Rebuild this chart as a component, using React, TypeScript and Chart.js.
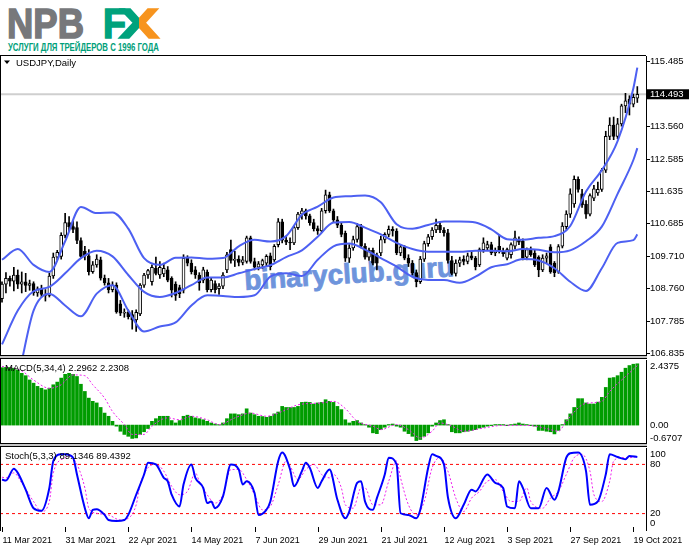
import Chart from 'chart.js/auto';
import { useEffect, useRef } from 'react';

const FONT = '"Liberation Sans", Arial, sans-serif';

// bar 0 = 11 Mar 2021, one bar per trading day
const opens = [
    108.45, 108.88, 109.05, 108.97, 109.15, 108.88, 108.95, 108.84, 108.90, 108.62,
    108.74, 108.58, 108.55, 109.12, 109.68, 109.70, 110.32, 110.70, 110.58, 110.55,
    110.17, 109.85, 109.72, 109.25, 109.45, 109.60, 109.06, 108.92, 108.72, 108.85,
    108.30, 108.02, 108.05, 107.98, 107.82, 108.00, 108.85, 109.15, 108.95, 109.35,
    109.15, 109.18, 109.30, 109.05, 108.88, 108.78, 108.70, 109.64, 109.50, 109.30,
    109.15, 109.00, 109.24, 108.72, 108.90, 108.75, 108.82, 109.30, 109.90, 109.58,
    109.62, 109.52, 109.55, 110.25, 109.55, 109.38, 109.45, 109.50, 109.72, 109.60,
    110.05, 110.72, 110.18, 110.12, 110.10, 110.55, 110.95, 111.05, 110.90, 110.70,
    110.52, 110.45, 111.05, 111.52, 111.05, 110.78, 110.62, 110.38, 109.65, 109.95,
    110.20, 110.58, 110.00, 109.68, 109.88, 109.74, 109.80, 110.20, 110.35, 110.50,
    110.45, 109.80, 109.98, 109.65, 109.50, 109.22, 108.95, 109.62, 110.08, 110.28,
    110.48, 110.62, 110.48, 110.40, 109.58, 109.20, 109.50, 109.62, 109.55, 109.72,
    109.65, 109.45, 109.90, 109.95, 110.05, 109.80, 110.00, 109.85, 109.65, 109.75,
    110.00, 110.20, 110.15, 109.68, 109.90, 109.80, 109.68, 109.30, 109.65, 109.98,
    109.50, 109.24, 110.00, 110.58, 110.95, 111.25, 111.98, 111.55, 111.25, 110.95,
    111.42, 111.58, 111.68, 112.25, 113.25, 113.58, 113.25, 113.62, 114.15, 114.35,
    114.20, 114.38,
];
const highs = [
    108.95, 109.22, 109.12, 109.38, 109.30, 109.24, 109.20, 109.00, 108.95, 108.80,
    108.85, 108.72, 109.20, 109.80, 109.88, 110.40, 110.97, 110.88, 110.75, 110.72,
    110.25, 110.00, 109.90, 109.55, 109.75, 109.68, 109.15, 109.05, 108.95, 108.92,
    108.40, 108.15, 108.12, 108.10, 108.12, 108.90, 109.20, 109.32, 109.45, 109.68,
    109.55, 109.50, 109.40, 109.10, 108.95, 108.85, 109.75, 109.72, 109.60, 109.40,
    109.22, 109.38, 109.30, 109.08, 108.98, 108.90, 109.22, 109.82, 110.18, 109.85,
    109.72, 109.70, 110.30, 110.30, 109.65, 109.55, 109.62, 109.75, 109.80, 110.05,
    110.82, 110.80, 110.30, 110.25, 110.60, 111.00, 111.12, 111.10, 110.95, 110.80,
    110.60, 111.12, 111.66, 111.60, 111.10, 110.88, 110.70, 110.45, 110.05, 110.30,
    110.68, 110.65, 110.08, 109.95, 109.95, 109.80, 110.30, 110.40, 110.60, 110.58,
    110.52, 110.05, 110.02, 109.75, 109.58, 109.30, 109.70, 110.15, 110.35, 110.55,
    110.80, 110.70, 110.55, 110.50, 109.70, 109.60, 109.68, 109.72, 109.80, 109.85,
    109.70, 109.95, 110.25, 110.15, 110.12, 109.95, 110.35, 109.95, 109.95, 110.10,
    110.45, 110.28, 110.22, 109.95, 109.98, 109.88, 109.72, 109.75, 109.80, 110.05,
    109.55, 110.05, 110.70, 111.05, 111.70, 112.08, 112.05, 111.68, 111.35, 111.55,
    111.80, 111.90, 112.30, 113.40, 113.80, 113.82, 113.78, 114.20, 114.52, 114.45,
    114.50, 114.72,
];
const lows = [
    108.35, 108.62, 108.82, 108.68, 108.75, 108.62, 108.66, 108.70, 108.55, 108.52,
    108.50, 108.38, 108.50, 109.05, 109.60, 109.62, 110.25, 110.45, 110.40, 110.08,
    109.65, 109.60, 109.15, 109.20, 109.38, 109.00, 108.85, 108.62, 108.65, 108.02,
    107.95, 107.90, 107.85, 107.55, 107.48, 107.95, 108.78, 109.05, 108.85, 109.15,
    109.05, 109.10, 108.95, 108.50, 108.40, 108.48, 108.62, 109.42, 109.18, 109.05,
    108.70, 108.92, 108.65, 108.65, 108.62, 108.58, 108.75, 109.22, 109.50, 109.40,
    109.42, 109.45, 109.50, 109.50, 109.30, 109.30, 109.35, 109.42, 109.30, 109.55,
    109.98, 110.10, 110.05, 109.90, 110.05, 110.50, 110.80, 110.80, 110.62, 110.45,
    110.35, 110.40, 110.98, 111.00, 110.70, 110.55, 110.28, 109.55, 109.52, 109.88,
    110.12, 109.95, 109.62, 109.58, 109.45, 109.30, 109.72, 110.10, 110.28, 110.30,
    109.75, 109.72, 109.60, 109.40, 109.15, 108.80, 108.90, 109.55, 110.00, 110.20,
    110.40, 110.40, 110.30, 109.50, 109.15, 109.12, 109.40, 109.45, 109.48, 109.60,
    109.30, 109.40, 109.82, 109.88, 109.75, 109.72, 109.80, 109.70, 109.60, 109.65,
    109.92, 110.05, 109.60, 109.60, 109.70, 109.40, 109.10, 109.25, 109.50, 109.20,
    109.10, 109.20, 109.95, 110.50, 110.85, 111.15, 111.60, 111.15, 110.82, 110.90,
    111.35, 111.50, 111.62, 112.18, 113.15, 113.15, 113.18, 113.55, 113.95, 113.88,
    114.12, 114.25,
];
const closes = [
    108.88, 109.05, 108.97, 109.15, 108.88, 108.95, 108.84, 108.90, 108.62, 108.74,
    108.58, 108.55, 109.12, 109.68, 109.82, 110.32, 110.70, 110.58, 110.50, 110.17,
    109.70, 109.72, 109.25, 109.45, 109.62, 109.06, 108.92, 108.72, 108.85, 108.06,
    108.02, 108.05, 107.92, 107.82, 108.05, 108.85, 109.15, 109.28, 109.38, 109.20,
    109.38, 109.35, 109.00, 108.70, 108.55, 108.60, 109.64, 109.50, 109.25, 109.15,
    108.92, 109.30, 108.72, 109.00, 108.72, 108.82, 109.15, 109.75, 109.58, 109.62,
    109.52, 109.60, 110.25, 109.55, 109.38, 109.48, 109.58, 109.70, 109.40, 110.00,
    110.72, 110.18, 110.12, 110.10, 110.55, 110.95, 111.05, 110.90, 110.70, 110.52,
    110.45, 111.05, 111.52, 111.05, 110.78, 110.62, 110.35, 109.65, 109.95, 110.20,
    110.58, 110.00, 109.68, 109.88, 109.50, 109.50, 110.20, 110.35, 110.50, 110.45,
    109.80, 109.98, 109.65, 109.50, 109.22, 108.95, 109.62, 110.08, 110.28, 110.48,
    110.62, 110.48, 110.40, 109.58, 109.20, 109.50, 109.60, 109.55, 109.72, 109.65,
    109.40, 109.90, 110.10, 110.05, 109.80, 109.88, 109.85, 109.78, 109.90, 110.05,
    110.25, 110.12, 109.65, 109.90, 109.75, 109.45, 109.30, 109.65, 109.72, 109.24,
    109.22, 109.99, 110.60, 110.95, 111.55, 111.98, 111.68, 111.22, 110.95, 111.50,
    111.70, 111.68, 112.25, 113.25, 113.58, 113.25, 113.62, 114.15, 114.30, 114.20,
    114.40, 114.493,
];

// Bollinger bands, read every 4th bar
const bandIdx = [
    0, 4, 8, 12, 16, 20, 24, 28, 32, 36, 40, 44, 48, 52, 56, 60, 64, 68, 72, 76, 80,
    84, 88, 92, 96, 100, 104, 108, 112, 116, 120, 124, 128, 132, 136, 140, 144, 148, 152, 156, 160, 161,
];
const bandUpper = [
    109.60, 109.92, 109.45, 109.24, 110.15, 111.16, 110.98, 111.00, 110.52, 109.65, 109.45,
    109.66, 109.67, 109.63, 109.65, 110.00, 110.19, 110.14, 110.30, 110.93, 111.17,
    111.44, 111.48, 111.50, 111.30, 110.65, 110.52, 110.63, 110.73, 110.73, 110.70,
    110.50, 110.21, 110.19, 110.25, 110.30, 110.60, 111.62, 112.25, 113.11, 114.67, 115.28,
];
const bandMiddle = [
    107.10, 108.10, 108.67, 108.80, 109.20, 109.65, 109.87, 109.70, 109.15, 108.65, 108.50,
    108.62, 108.85, 109.08, 109.08, 109.20, 109.33, 109.44, 109.68, 109.88, 110.28,
    110.70, 110.72, 110.55, 110.35, 110.10, 109.92, 109.84, 109.84, 109.84, 109.87,
    109.87, 109.85, 109.92, 109.90, 109.82, 109.88, 110.15, 110.58, 111.55, 112.55, 112.90,
];
const bandLower = [
    104.70, 106.10, 108.10, 108.60, 108.25, 107.93, 108.60, 108.85, 108.10, 107.48, 107.63,
    107.75, 108.25, 108.55, 108.53, 108.50, 108.55, 109.10, 109.20, 109.12, 109.60,
    110.00, 110.08, 109.90, 109.65, 109.40, 109.10, 109.00, 109.00, 108.92, 109.10,
    109.38, 109.47, 109.62, 109.58, 109.35, 108.95, 108.68, 109.35, 110.10, 110.18, 110.35,
];

const priceTicks = [115.485, 113.560, 112.585, 111.635, 110.685, 109.710, 108.760, 107.785, 106.835];

// MACD(5,34,4)
const macdHist = [
    2.15, 2.16, 2.16, 2.13, 2.07, 1.94, 1.85, 1.69, 1.57, 1.45,
    1.38, 1.32, 1.38, 1.51, 1.61, 1.76, 1.90, 1.94, 1.90, 1.82,
    1.53, 1.26, 1.01, 0.89, 0.83, 0.66, 0.45, 0.33, 0.14, -0.04,
    -0.23, -0.35, -0.42, -0.50, -0.48, -0.35, -0.25, -0.13, 0.14, 0.24,
    0.33, 0.33, 0.33, 0.17, 0.08, 0.17, 0.33, 0.37, 0.33, 0.27,
    0.24, 0.20, 0.14, 0.08, 0.04, 0.02, 0.08, 0.24, 0.42, 0.42,
    0.39, 0.42, 0.61, 0.45, 0.39, 0.33, 0.32, 0.29, 0.33, 0.42,
    0.49, 0.70, 0.66, 0.66, 0.66, 0.70, 0.85, 0.86, 0.85, 0.79,
    0.83, 0.85, 0.95, 0.89, 0.85, 0.70, 0.58, 0.20, 0.08, 0.14,
    0.17, 0.08, 0.02, -0.08, -0.29, -0.32, -0.17, -0.08, 0.02, 0.04,
    -0.04, -0.08, -0.23, -0.32, -0.42, -0.58, -0.54, -0.42, -0.29, -0.04,
    0.08, 0.17, 0.20, 0.02, -0.25, -0.29, -0.29, -0.25, -0.23, -0.20,
    -0.17, -0.11, -0.08, -0.04, -0.02, 0.02, 0.02, 0.02, -0.02, 0.02,
    0.04, 0.08, 0.04, 0.02, -0.02, -0.04, -0.20, -0.20, -0.23, -0.25,
    -0.33, -0.20, 0.02, 0.20, 0.42, 0.66, 0.99, 0.99, 0.83, 0.79,
    0.79, 0.86, 1.04, 1.41, 1.76, 1.78, 1.85, 1.98, 2.13, 2.23,
    2.28, 2.2962,
];
const signalIdx = [
    0, 5, 8, 12, 15, 18, 21, 23, 26, 28, 31, 33, 36, 38, 42, 45, 48, 52, 55, 59,
    63, 67, 71, 75, 81, 84, 87, 90, 94, 96, 100, 103, 106, 109, 111, 114, 117, 122, 127, 131,
    134, 138, 141, 143, 147, 149, 152, 154, 158, 161,
];
const signalVals = [
    2.20, 2.03, 1.69, 1.38, 1.51, 1.88, 1.85, 1.51, 1.01, 0.51, 0.02, -0.35, -0.35, -0.04, 0.27, 0.20, 0.33, 0.20, 0.02, 0.27,
    0.45, 0.33, 0.51, 0.76, 0.83, 0.89, 0.62, 0.14, -0.04, -0.17, 0.02, -0.17, -0.48, -0.23, 0.08, -0.04, -0.23, -0.11, -0.01, -0.01,
    -0.02, -0.13, -0.23, 0.14, 0.76, 0.83, 0.89, 1.26, 1.82, 2.2308,
];
const macdMax = 2.4375;
const macdMin = -0.6707;

// Stochastic(5,3,3)
const stochKIdx = [
    0, 1, 3, 4, 6, 8, 10, 12, 13, 15, 16, 18, 19, 21, 22, 23, 24, 26, 27, 29,
    31, 32, 34, 36, 37, 39, 41, 42, 43, 45, 46, 48, 49, 51, 52, 53, 54, 56, 58, 60,
    61, 62, 64, 65, 67, 68, 70, 71, 73, 74, 76, 77, 78, 80, 81, 83, 85, 87, 88, 90,
    91, 92, 94, 95, 97, 98, 100, 101, 103, 105, 106, 108, 109, 110, 112, 113, 115, 117, 119, 120,
    123, 125, 127, 128, 130, 131, 132, 134, 136, 138, 140, 141, 143, 144, 146, 148, 149, 151, 153, 154,
    156, 158, 159, 161,
];
const stochK = [
    61.5, 60.3, 74.7, 69.7, 49.2, 26.6, 23.5, 51.3, 84.1, 92.3, 92.3, 88.2, 67.7, 26.6, 14.3, 24.6, 25.4, 18.4, 12.2, 11.0,
    12.2, 18.4, 43.0, 67.7, 82.1, 80.0, 63.6, 59.5, 43.0, 28.7, 55.4, 80.0, 63.6, 51.3, 32.8, 34.8, 26.6, 41.0, 80.0, 73.8,
    55.4, 59.5, 45.1, 18.4, 24.6, 34.8, 84.1, 94.4, 73.8, 53.3, 71.8, 82.1, 75.9, 51.3, 59.5, 73.8, 36.9, 14.3, 22.5, 57.4,
    59.5, 34.8, 24.6, 38.9, 67.7, 88.2, 80.0, 20.4, 18.4, 14.3, 24.6, 75.9, 92.3, 90.3, 80.0, 40.0, 14.3, 30.7, 49.2, 47.1,
    67.7, 57.4, 51.3, 28.7, 26.6, 59.5, 51.3, 26.6, 26.6, 51.3, 36.9, 47.1, 88.2, 93.6, 94.4, 71.8, 30.7, 34.8, 67.7, 92.3,
    89.0, 86.2, 90.3, 89.1346,
];
const stochDIdx = [
    0, 1, 3, 5, 8, 10, 12, 13, 16, 17, 19, 21, 22, 24, 27, 30, 32, 34, 35, 37,
    39, 41, 43, 45, 47, 49, 50, 52, 54, 56, 58, 60, 62, 64, 66, 68, 70, 72, 73, 75,
    77, 79, 81, 83, 84, 86, 87, 89, 91, 92, 94, 96, 98, 100, 101, 103, 105, 107, 109, 111,
    113, 115, 117, 119, 121, 123, 125, 127, 129, 131, 133, 134, 137, 139, 141, 143, 145, 147, 149, 150,
    152, 154, 155, 157, 159, 161,
];
const stochD = [
    64.4, 63.6, 69.7, 57.4, 34.8, 22.5, 34.8, 69.7, 88.2, 90.3, 80.0, 51.3, 26.6, 20.4, 18.4, 12.2, 14.3, 30.7, 55.4, 75.9,
    80.0, 71.8, 53.3, 43.0, 47.1, 69.7, 59.5, 43.0, 32.8, 43.0, 73.8, 73.8, 61.5, 43.0, 24.6, 28.7, 55.4, 84.1, 77.9, 61.5,
    73.8, 80.0, 67.7, 63.6, 67.7, 51.3, 30.7, 26.6, 51.3, 51.3, 30.7, 30.7, 59.5, 84.1, 63.6, 30.7, 18.4, 34.8, 75.9, 88.2,
    71.8, 38.9, 22.5, 38.9, 47.1, 59.5, 61.5, 47.1, 34.8, 34.8, 51.3, 34.8, 26.6, 38.9, 47.1, 67.7, 88.2, 92.3, 71.8, 43.0,
    34.8, 59.5, 84.1, 88.2, 88.2, 89.4392,
];
const stochLevels = [80, 20];
const stochTicks = [100, 80, 20, 0];

const dateIdx = [0, 16, 32, 48, 64, 80, 96, 112, 128, 144, 160];
const dateLabels = [
    '11 Mar 2021', '31 Mar 2021', '22 Apr 2021', '14 May 2021', '7 Jun 2021', '29 Jun 2021',
    '21 Jul 2021', '12 Aug 2021', '3 Sep 2021', '27 Sep 2021', '19 Oct 2021',
];

const X_MIN = -0.507;
const X_MAX = 163.2;
const AXIS_W = 45;

const pts = (idx: number[], vals: number[]) => idx.map((x, i) => ({ x, y: vals[i] }));

const xAxis = { type: 'linear', min: X_MIN, max: X_MAX, offset: false, display: false };
const yAxis = (min: number, max: number) => ({
    type: 'linear',
    position: 'right',
    min,
    max,
    afterFit: (s: any) => { s.width = AXIS_W; },
    ticks: { display: false },
    grid: { display: false },
    border: { display: true, color: '#000', width: 1 },
});

const baseOptions = (pad: { top: number; bottom: number }) => ({
    animation: false,
    responsive: false,
    events: [],
    layout: { padding: { left: 0, right: 0, top: pad.top, bottom: pad.bottom } },
    plugins: { legend: { display: false }, tooltip: { enabled: false } },
});

const lineSet = (data: any[], color: string, width: number, dash: number[] = []) => ({
    type: 'line',
    data,
    borderColor: color,
    borderWidth: width,
    borderDash: dash,
    pointRadius: 0,
    fill: false,
    cubicInterpolationMode: 'monotone',
    order: 0,
});

export default function App() {
    const mainRef = useRef<HTMLCanvasElement | null>(null);
    const macdRef = useRef<HTMLCanvasElement | null>(null);
    const stochRef = useRef<HTMLCanvasElement | null>(null);

    useEffect(() => {
        document.body.style.margin = '0';
        if (!mainRef.current || !macdRef.current || !stochRef.current) return;

        const last = closes[closes.length - 1];

        const mainChart = new Chart(mainRef.current, {
            type: 'bar',
            data: {
                datasets: [
                    {
                        // wicks
                        data: opens.map((_, i) => ({ x: i, y: [lows[i], highs[i]] })),
                        backgroundColor: '#000',
                        barThickness: 1,
                        grouped: false,
                        order: 2,
                    },
                    {
                        // bodies
                        data: opens.map((o, i) => ({ x: i, y: [Math.min(o, closes[i]), Math.max(o, closes[i])] })),
                        backgroundColor: opens.map((o, i) => (closes[i] >= o ? '#fff' : '#000')),
                        borderColor: '#000',
                        borderWidth: 1,
                        borderSkipped: false,
                        barThickness: 3,
                        grouped: false,
                        order: 1,
                    },
                    lineSet(pts(bandIdx, bandUpper), '#4d60f2', 2),
                    lineSet(pts(bandIdx, bandMiddle), '#4d60f2', 2),
                    lineSet(pts(bandIdx, bandLower), '#4d60f2', 2),
                ] as any,
            },
            options: {
                ...baseOptions({ top: 10, bottom: 10 }),
                scales: { x: xAxis, y: yAxis(106.786, 115.624) } as any,
            } as any,
            plugins: [{
                id: 'priceAxis',
                beforeDatasetsDraw(chart: any) {
                    const { ctx, chartArea, scales } = chart;
                    const y = scales.y.getPixelForValue(last);
                    ctx.save();
                    ctx.strokeStyle = '#cfcfcf';
                    ctx.lineWidth = 2;
                    ctx.beginPath();
                    ctx.moveTo(chartArea.left, y);
                    ctx.lineTo(chartArea.right, y);
                    ctx.stroke();
                    ctx.restore();
                },
                afterDraw(chart: any) {
                    const { ctx, chartArea, scales } = chart;
                    const r = chartArea.right;
                    ctx.save();
                    ctx.font = `9.5px ${FONT}`;
                    ctx.textBaseline = 'middle';
                    ctx.fillStyle = '#000';
                    ctx.strokeStyle = '#000';
                    ctx.lineWidth = 1;
                    priceTicks.forEach((v) => {
                        const y = Math.round(scales.y.getPixelForValue(v)) + 0.5;
                        ctx.beginPath();
                        ctx.moveTo(r, y);
                        ctx.lineTo(r + 4, y);
                        ctx.stroke();
                        ctx.fillText(v.toFixed(3), r + 4, y);
                    });
                    const yl = scales.y.getPixelForValue(last);
                    ctx.fillRect(r + 1, yl - 5, 42, 10);
                    ctx.fillStyle = '#fff';
                    ctx.fillText(last.toFixed(3), r + 4, yl);
                    // symbol caption
                    const t = chartArea.top;
                    ctx.fillStyle = '#000';
                    ctx.beginPath();
                    ctx.moveTo(4, t + 4.5);
                    ctx.lineTo(10, t + 4.5);
                    ctx.lineTo(7, t + 8);
                    ctx.closePath();
                    ctx.fill();
                    ctx.fillText('USDJPY,Daily', 16, t + 7);
                    ctx.restore();
                },
            }],
        });

        const macdChart = new Chart(macdRef.current, {
            type: 'bar',
            data: {
                datasets: [
                    {
                        data: macdHist.map((v, i) => ({ x: i, y: v })),
                        backgroundColor: '#009c00',
                        barThickness: 3,
                        order: 1,
                    },
                    lineSet(pts(signalIdx, signalVals), '#ee22ee', 1, [2, 2]),
                ] as any,
            },
            options: {
                ...baseOptions({ top: 10, bottom: 10 }),
                scales: { x: xAxis, y: yAxis(macdMin, macdMax) } as any,
            } as any,
            plugins: [{
                id: 'macdAxis',
                afterDraw(chart: any) {
                    const { ctx, chartArea, scales } = chart;
                    const r = chartArea.right;
                    ctx.save();
                    ctx.font = `9.5px ${FONT}`;
                    ctx.textBaseline = 'middle';
                    ctx.fillStyle = '#000';
                    ctx.fillText(macdMax.toFixed(4), r + 4, chartArea.top + 6);
                    ctx.fillText('0.00', r + 4, scales.y.getPixelForValue(0));
                    ctx.fillText(macdMin.toFixed(4), r + 4, chartArea.bottom - 5);
                    ctx.fillText(
                        `MACD(5,34,4) ${macdHist[macdHist.length - 1].toFixed(4)} ${signalVals[signalVals.length - 1].toFixed(4)}`,
                        5, chartArea.top + 8,
                    );
                    ctx.restore();
                },
            }],
        });

        const stochChart = new Chart(stochRef.current, {
            type: 'line',
            data: {
                datasets: [
                    ...stochLevels.map((lv) => ({
                        ...lineSet([{ x: X_MIN, y: lv }, { x: X_MAX, y: lv }], '#ff0000', 1, [3, 3]),
                        order: 3,
                    })),
                    { ...lineSet(pts(stochDIdx, stochD), '#ee22ee', 1, [2, 2]), order: 2 },
                    { ...lineSet(pts(stochKIdx, stochK), '#0000ff', 2), order: 1 },
                ] as any,
            },
            options: {
                ...baseOptions({ top: 10, bottom: 19 }),
                scales: { x: xAxis, y: yAxis(0, 100) } as any,
            } as any,
            plugins: [{
                id: 'stochAxis',
                afterDraw(chart: any) {
                    const { ctx, chartArea, scales } = chart;
                    const r = chartArea.right;
                    ctx.save();
                    ctx.font = `9.5px ${FONT}`;
                    ctx.textBaseline = 'middle';
                    ctx.fillStyle = '#000';
                    const ys = [chartArea.top + 6, scales.y.getPixelForValue(80), scales.y.getPixelForValue(20), chartArea.bottom - 6.5];
                    stochTicks.forEach((v, i) => ctx.fillText(String(v), r + 4, ys[i]));
                    ctx.fillText(
                        `Stoch(5,3,3) ${stochK[stochK.length - 1].toFixed(4)} ${stochD[stochD.length - 1].toFixed(4)}`,
                        5, chartArea.top + 8,
                    );
                    // time scale
                    ctx.strokeStyle = '#000';
                    ctx.lineWidth = 1;
                    ctx.textBaseline = 'alphabetic';
                    dateIdx.forEach((idx, i) => {
                        const x = Math.round(scales.x.getPixelForValue(idx)) + 0.5;
                        ctx.beginPath();
                        ctx.moveTo(x, chartArea.bottom - 3);
                        ctx.lineTo(x, chartArea.bottom + 2);
                        ctx.stroke();
                        ctx.save();
                        ctx.translate(x, chartArea.bottom + 12.5);
                        ctx.scale(0.94, 1);
                        ctx.fillText(dateLabels[i], 0, 0);
                        ctx.restore();
                    });
                    ctx.restore();
                },
            }],
        });

        return () => {
            mainChart.destroy();
            macdChart.destroy();
            stochChart.destroy();
        };
    }, []);

    const abs = (top: number): React.CSSProperties => ({ position: 'absolute', left: 0, top });
    const sep = (top: number): React.CSSProperties => ({
        position: 'absolute', left: 0, top, width: 647, height: 2,
        borderTop: '1px solid #000', borderBottom: '1px solid #000', background: '#c4c4c4',
    });

    return (
        <div style={{ position: 'relative', width: 691, height: 549, background: '#fff', overflow: 'hidden' }}>
            <svg width={691} height={549} style={{ position: 'absolute', left: 0, top: 0 }}>
                <defs>
                    <linearGradient id="xg" x1="0" x2="1" y1="0" y2="0">
                        <stop offset="0.5" stopColor="#00a27c" />
                        <stop offset="0.5" stopColor="#f7941e" />
                    </linearGradient>
                </defs>
                <text x={7} y={38} fontFamily={FONT} fontWeight="bold" fontSize={43} fill="#77787b"
                    stroke="#77787b" strokeWidth={1.6} textLength={77} lengthAdjust="spacingAndGlyphs">NPB</text>
                <text x={103} y={38} fontFamily={FONT} fontWeight="bold" fontSize={43} fill="#00a27c"
                    stroke="#00a27c" strokeWidth={1.6} textLength={23} lengthAdjust="spacingAndGlyphs">F</text>
                <text x={119} y={38} fontFamily={FONT} fontWeight="bold" fontSize={43} fill="url(#xg)"
                    stroke="url(#xg)" strokeWidth={1.6} textLength={40} lengthAdjust="spacingAndGlyphs">X</text>
                <text x={8} y={50.7} fontFamily={FONT} fontWeight="bold" fontSize={10.3} fill="#00a07a"
                    textLength={151} lengthAdjust="spacingAndGlyphs">УСЛУГИ ДЛЯ ТРЕЙДЕРОВ С 1996 ГОДА</text>
                <text x={245} y={290} transform="rotate(-3.8 245 290)" fontFamily={FONT} fontWeight="bold"
                    fontSize={28} fill="#6e94dc" stroke="#6e94dc" strokeWidth={0.8}
                    textLength={210} lengthAdjust="spacingAndGlyphs">binaryclub.guru</text>
            </svg>
            <canvas ref={mainRef} width={691} height={319} style={abs(46)} />
            <canvas ref={macdRef} width={691} height={103} style={abs(350)} />
            <canvas ref={stochRef} width={691} height={111} style={abs(438)} />
            <div style={{ position: 'absolute', left: 0, top: 55, width: 646, height: 1, background: '#000' }} />
            <div style={{ position: 'absolute', left: 0, top: 55, width: 1, height: 476, background: '#000' }} />
            <div style={sep(355)} />
            <div style={sep(443)} />
        </div>
    );
}
